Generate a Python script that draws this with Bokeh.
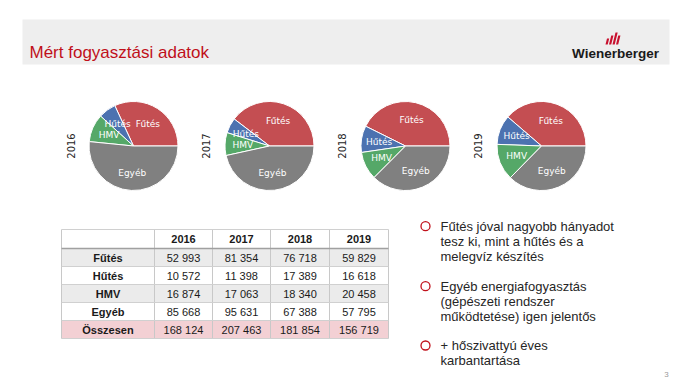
import math
from bokeh.plotting import figure
from bokeh.models import Range1d
from bokeh.core.properties import value
from bokeh.embed import file_html
from bokeh.resources import INLINE

# ---------------- data ----------------
years = ["2016", "2017", "2018", "2019"]
categories = ["Fűtés", "Hűtés", "HMV", "Egyéb"]
futes = [52993, 81354, 76718, 59829]
hutes = [10572, 11398, 17389, 16618]
hmv = [16874, 17063, 18340, 20458]
egyeb = [85668, 95631, 67388, 57795]
osszesen = [168124, 207463, 181854, 156719]
total_label = "Összesen"
title_text = "Mért fogyasztási  adatok"
bullets = [
    ["Fűtés jóval nagyobb hányadot", "tesz ki, mint a hűtés és a", "melegvíz készítés"],
    ["Egyéb energiafogyasztás", "(gépészeti rendszer", "működtetése) igen jelentős"],
    ["+ hőszivattyú éves", "karbantartása"],
]
page_number = "3"

# ---------------- styles ----------------
pie_colors = ["#c44e52", "#4c72b0", "#55a868", "#808080"]
row_fills = ["#ebebeb", "#ffffff", "#ebebeb", "#ffffff"]
total_fill = "#f3d0d4"
RED = "#c0101a"
ARIAL = value("Liberation Sans")
DEJA = value("DejaVu Sans")

W, H = 682, 380
p = figure(width=W, height=H, x_range=Range1d(0, W), y_range=Range1d(388 - H, 388),
           output_backend="svg", toolbar_location=None, min_border=0)
p.axis.visible = False
p.grid.visible = False
p.outline_line_color = None
p.background_fill_color = "white"
p.border_fill_color = "white"


def Y(py):
    return 388 - py


# header band
p.quad(left=[22], right=[669], top=[Y(19)], bottom=[Y(64)], fill_color="#eeeeee", line_color=None)
p.text(x=[29], y=[Y(52)], text=[title_text], text_font=ARIAL, text_font_size="17px",
       text_color=RED, text_baseline="middle", text_align="left")

# logo
p.text(x=[615], y=[Y(53)], text=["Wienerberger"], text_font=ARIAL, text_font_size="13.5px",
       text_font_style="bold", text_color="#1a1a1a", text_baseline="middle", text_align="center")
logo_xs, logo_ys = [], []
for i, (hgt, x0) in enumerate([(6, 605), (9, 608.5), (12, 612), (9, 615.5)]):
    b = Y(44)
    logo_xs.append([x0, x0 + 2.2, x0 + 2.2 + hgt * 0.25, x0 + hgt * 0.25])
    logo_ys.append([b, b, b + hgt, b + hgt])
p.patches(xs=logo_xs, ys=logo_ys, fill_color="#c8102e", line_color=None)

# ---------------- pies ----------------
centers_x = [133, 269, 405, 541]
year_label_x = [70, 205, 341, 477]
cy = Y(145.5)
R = 44.5
for k, yr in enumerate(years):
    vals = [futes[k], hutes[k], hmv[k], egyeb[k]]
    tot = sum(vals)
    starts, ends, lx, ly = [], [], [], []
    acc = 0.0
    for v in vals:
        a0 = 2 * math.pi * acc / tot
        acc += v
        a1 = 2 * math.pi * acc / tot
        starts.append(a0)
        ends.append(a1)
        m = (a0 + a1) / 2
        lx.append(centers_x[k] + 0.6 * R * math.cos(m))
        ly.append(cy + 0.6 * R * math.sin(m))
    p.wedge(x=[centers_x[k]] * 4, y=[cy] * 4, radius=R, start_angle=starts, end_angle=ends,
            fill_color=pie_colors, line_color="white", line_width=1)
    p.text(x=lx, y=ly, text=categories, text_font=DEJA, text_font_size="9px",
           text_color="white", text_align="center", text_baseline="middle")
    p.text(x=[year_label_x[k]], y=[cy], text=[yr], angle=math.pi / 2, text_font=DEJA,
           text_font_size="10px", text_color="#262626", text_align="center", text_baseline="middle")

# ---------------- table ----------------
col_edges = [61, 154, 212, 270, 329, 388]
row_edges = [229, 248, 266, 284, 302, 320, 338]


def fmt(n):
    return f"{n:,}".replace(",", " ")


series = [futes, hutes, hmv, egyeb]
fills = ["#ffffff"] + row_fills + [total_fill]
p.quad(left=[col_edges[0]] * 6, right=[col_edges[-1]] * 6,
       top=[Y(row_edges[i]) for i in range(6)], bottom=[Y(row_edges[i + 1]) for i in range(6)],
       fill_color=fills, line_color=None)
# grid lines
vx = col_edges
p.multi_line(xs=[[x, x] for x in vx], ys=[[Y(row_edges[0]), Y(row_edges[-1])]] * len(vx),
             line_color="#c8c8c8", line_width=1)
hy = [row_edges[0]] + row_edges[2:]
p.multi_line(xs=[[col_edges[0], col_edges[-1]]] * len(hy), ys=[[Y(y), Y(y)] for y in hy],
             line_color="#d0d0d0", line_width=1)
p.line(x=[col_edges[0], col_edges[-1]], y=[Y(row_edges[1]), Y(row_edges[1])],
       line_color="#a0a0a0", line_width=1.5)


def cx(c):
    return (col_edges[c] + col_edges[c + 1]) / 2


def ry(r):
    return Y((row_edges[r] + row_edges[r + 1]) / 2)


# header
p.text(x=[cx(c + 1) for c in range(4)], y=[ry(0)] * 4, text=years, text_font=ARIAL,
       text_font_size="11px", text_font_style="bold", text_color="#1a1a1a",
       text_align="center", text_baseline="middle")
# row labels
p.text(x=[cx(0)] * 5, y=[ry(r + 1) for r in range(5)], text=categories + [total_label],
       text_font=ARIAL, text_font_size="11px", text_font_style="bold", text_color="#1a1a1a",
       text_align="center", text_baseline="middle")
# values
allrows = series + [osszesen]
tx, ty, tt = [], [], []
for r, row in enumerate(allrows):
    for c, v in enumerate(row):
        tx.append(cx(c + 1))
        ty.append(ry(r + 1))
        tt.append(fmt(v))
p.text(x=tx, y=ty, text=tt, text_font=ARIAL, text_font_size="11px", text_color="#1a1a1a",
       text_align="center", text_baseline="middle")

# ---------------- bullets ----------------
bullet_y = [225.7, 285.7, 345]
line_gap = 15.3
p.scatter(x=[425] * 3, y=[Y(b) for b in bullet_y], marker="circle", size=9,
          fill_color=None, line_color=RED, line_width=1.3)
bx, by, bt = [], [], []
for b, lines in zip(bullet_y, bullets):
    for i, ln in enumerate(lines):
        bx.append(440)
        by.append(Y(b + i * line_gap))
        bt.append(ln)
p.text(x=bx, y=by, text=bt, text_font=ARIAL, text_font_size="13px", text_color="#262626",
       text_align="left", text_baseline="middle")

p.text(x=[666], y=[Y(374)], text=[page_number], text_font=ARIAL, text_font_size="8px",
       text_color="#9a9a9a", text_align="center", text_baseline="middle")

open("out.html", "w").write(file_html(p, INLINE))
